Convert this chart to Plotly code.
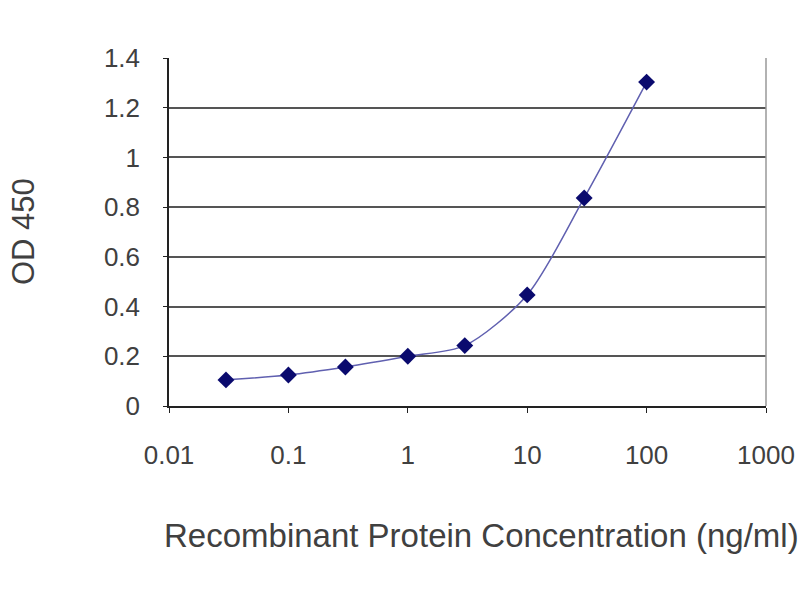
import plotly.graph_objects as go

concentration = [0.03, 0.1, 0.3, 1, 3, 10, 30, 100]
od450 = [0.105, 0.125, 0.157, 0.200, 0.243, 0.447, 0.837, 1.303]

x_tickvals = [0.01, 0.1, 1, 10, 100, 1000]
x_ticktext = ["0.01", "0.1", "1", "10", "100", "1000"]
y_tickvals = [0, 0.2, 0.4, 0.6, 0.8, 1.0, 1.2, 1.4]
y_ticktext = ["0", "0.2", "0.4", "0.6", "0.8", "1", "1.2", "1.4"]

font_family = "Liberation Sans, Arial, sans-serif"
text_color = "#404040"

fig = go.Figure()
fig.add_trace(go.Scatter(
    x=concentration, y=od450,
    mode="lines+markers",
    line=dict(color="#6060b0", width=1.5, shape="spline", smoothing=0.8),
    marker=dict(symbol="diamond", size=13, color="#0a0a6e"),
    showlegend=False,
))

fig.update_layout(
    width=800, height=600,
    margin=dict(l=169, r=34, t=58, b=194),
    paper_bgcolor="white", plot_bgcolor="white",
    font=dict(family=font_family, size=26, color=text_color),
    xaxis=dict(
        type="log", range=[-2, 3],
        tickvals=x_tickvals, ticktext=x_ticktext,
        showgrid=False, zeroline=False,
        showline=True, linecolor="#222", linewidth=1.5,
        ticks="outside", ticklen=5, tickcolor="#222",
        ticklabelstandoff=20,
        tickfont=dict(size=26, color=text_color),
        automargin=False,
    ),
    yaxis=dict(
        range=[0, 1.4],
        tickvals=y_tickvals, ticktext=y_ticktext,
        showgrid=True, gridcolor="#555555", gridwidth=2,
        zeroline=False,
        showline=True, linecolor="#222", linewidth=1.5,
        ticks="outside", ticklen=4, tickcolor="#222",
        ticklabelstandoff=18,
        tickfont=dict(size=26, color=text_color),
        automargin=False,
    ),
    shapes=[dict(type="line", xref="paper", yref="paper", x0=1, x1=1, y0=0, y1=1,
                 line=dict(color="#999", width=1.5))],
    annotations=[
        dict(text="Recombinant Protein Concentration (ng/ml)", xref="paper", yref="paper",
             x=-0.012, y=-129 / 348, xanchor="left", yanchor="middle", showarrow=False,
             font=dict(size=33, color=text_color)),
        dict(text="OD 450", xref="paper", yref="paper",
             x=-146 / 597, y=0.5, xanchor="center", yanchor="middle", textangle=-90,
             showarrow=False, font=dict(size=31, color=text_color)),
    ],
)

fig.write_html(
    "out.html",
    config={"displayModeBar": False},
    post_script="document.body.style.margin='0';document.body.style.overflow='hidden';",
)
